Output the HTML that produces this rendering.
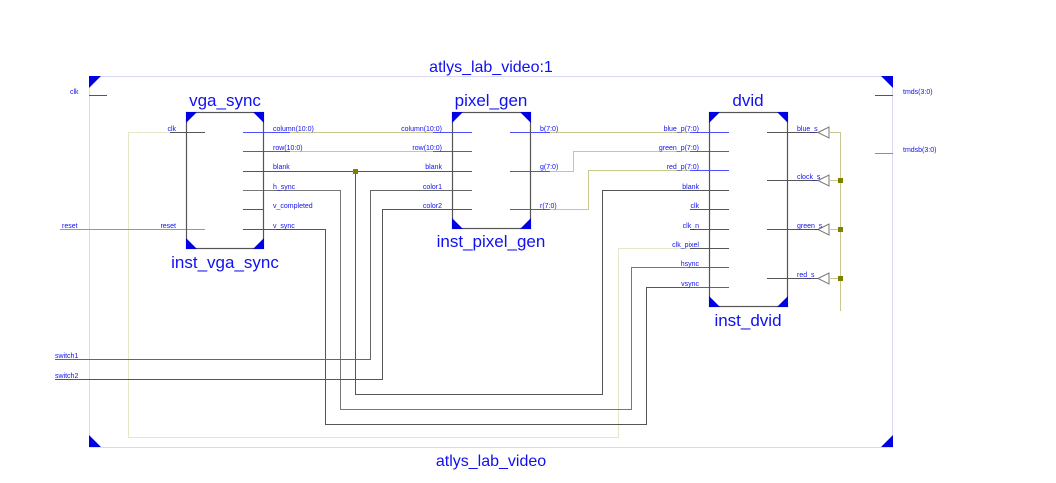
<!DOCTYPE html>
<html><head><style>
body{margin:0;background:#fff;width:1056px;height:483px;overflow:hidden}
svg{display:block}
text{font-family:"Liberation Sans",sans-serif;fill:#1010f0}
.s{font-size:7px}
.t{font-size:17px}
</style></head><body>
<svg width="1056" height="483" viewBox="0 0 1056 483">
<!-- outer frame -->
<rect x="89.5" y="76.5" width="803" height="371" fill="none" stroke="#d8d8f8" stroke-width="1"/>
<g fill="#0000e0">
<polygon points="89,76 101,76 89,88"/>
<polygon points="893,76 881,76 893,88"/>
<polygon points="89,447 89,435 101,447"/>
<polygon points="893,447 893,435 881,447"/>
</g>
<text x="491" y="72" text-anchor="middle" style="font-size:16px">atlys_lab_video:1</text>
<text x="491" y="466" text-anchor="middle" style="font-size:16px">atlys_lab_video</text>

<!-- top ports -->
<text class="s" x="70" y="94">clk</text>
<line x1="89" y1="95.5" x2="107" y2="95.5" stroke="#555"/>
<text class="s" x="62" y="228">reset</text>
<text class="s" x="55" y="358">switch1</text>
<text class="s" x="55" y="378">switch2</text>
<text class="s" x="903" y="94">tmds(3:0)</text>
<line x1="875" y1="95.5" x2="893" y2="95.5" stroke="#555"/>
<text class="s" x="903" y="152">tmdsb(3:0)</text>
<line x1="875" y1="153.5" x2="893" y2="153.5" stroke="#8080ff"/>

<!-- wires -->
<g fill="none" stroke-width="1">
<!-- clk -->
<polyline points="170,132.5 128.5,132.5 128.5,437.5 618.5,437.5 618.5,248.5 690,248.5" stroke="#e6e6c8"/>
<line x1="170" y1="132.5" x2="205" y2="132.5" stroke="#555"/>
<!-- reset -->
<line x1="60" y1="229.5" x2="205" y2="229.5" stroke="#999"/>
<!-- buses -->
<line x1="290" y1="132.5" x2="433" y2="132.5" stroke="#c8c890"/>
<line x1="290" y1="151.5" x2="433" y2="151.5" stroke="#c8c890"/>
<line x1="243" y1="132.5" x2="290" y2="132.5" stroke="#5050ff"/>
<line x1="243" y1="151.5" x2="290" y2="151.5" stroke="#5050ff"/>
<line x1="433" y1="132.5" x2="472" y2="132.5" stroke="#5050ff"/>
<line x1="433" y1="151.5" x2="472" y2="151.5" stroke="#5050ff"/>
<!-- blank -->
<line x1="243" y1="171.5" x2="472" y2="171.5" stroke="#555"/>
<polyline points="355.5,171 355.5,394.5 602.5,394.5 602.5,190.5 729,190.5" stroke="#555"/>
<!-- h_sync -->
<polyline points="243,190.5 340.5,190.5 340.5,409.5 631.5,409.5 631.5,267.5 690,267.5" stroke="#777"/>
<line x1="243" y1="209.5" x2="263" y2="209.5" stroke="#555"/>
<!-- v_sync -->
<polyline points="243,229.5 325.5,229.5 325.5,424.5 646.5,424.5 646.5,287.5 690,287.5" stroke="#555"/>
<!-- switches -->
<polyline points="55,359.5 370.5,359.5 370.5,190.5 472,190.5" stroke="#666"/>
<polyline points="55,379.5 382.5,379.5 382.5,209.5 472,209.5" stroke="#555"/>
<!-- pixel outputs -->
<line x1="510" y1="132.5" x2="550" y2="132.5" stroke="#5050ff"/>
<line x1="550" y1="132.5" x2="690" y2="132.5" stroke="#c8c890"/>
<line x1="510" y1="171.5" x2="550" y2="171.5" stroke="#5050ff"/>
<polyline points="550,171.5 573.5,171.5 573.5,151.5 690,151.5" stroke="#c8c890"/>
<line x1="510" y1="209.5" x2="550" y2="209.5" stroke="#5050ff"/>
<polyline points="550,209.5 588.5,209.5 588.5,170.5 690,170.5" stroke="#c8c890"/>
<!-- dvid left stubs -->
<g stroke="#5050ff">
<line x1="690" y1="132.5" x2="729" y2="132.5"/>
<line x1="690" y1="151.5" x2="729" y2="151.5"/>
<line x1="690" y1="170.5" x2="729" y2="170.5"/>
<line x1="690" y1="267.5" x2="729" y2="267.5"/>
<line x1="690" y1="287.5" x2="729" y2="287.5"/>
</g>
<g stroke="#555">
<line x1="690" y1="209.5" x2="729" y2="209.5"/>
<line x1="690" y1="229.5" x2="729" y2="229.5"/>
<line x1="690" y1="248.5" x2="729" y2="248.5"/>
</g>
<!-- dvid outputs -->
<g stroke="#555">
<line x1="767" y1="132.5" x2="818" y2="132.5"/>
<line x1="767" y1="180.5" x2="818" y2="180.5"/>
<line x1="767" y1="229.5" x2="818" y2="229.5"/>
<line x1="767" y1="278.5" x2="818" y2="278.5"/>
</g>
<g stroke="#777">
<polygon points="818,132.5 829,127 829,138"/>
<polygon points="818,180.5 829,175 829,186"/>
<polygon points="818,229.5 829,224 829,235"/>
<polygon points="818,278.5 829,273 829,284"/>
</g>
<g stroke="#c8c890">
<line x1="840.5" y1="132" x2="840.5" y2="311"/>
<line x1="829" y1="132.5" x2="840" y2="132.5"/>
<line x1="829" y1="180.5" x2="840" y2="180.5"/>
<line x1="829" y1="229.5" x2="840" y2="229.5"/>
<line x1="829" y1="278.5" x2="840" y2="278.5"/>
</g>
</g>
<g fill="#808000">
<rect x="353" y="169" width="5" height="5"/>
<rect x="838" y="178" width="5" height="5"/>
<rect x="838" y="227" width="5" height="5"/>
<rect x="838" y="276" width="5" height="5"/>
</g>

<!-- blocks -->
<g fill="none" stroke="#555" stroke-width="1.2">
<rect x="186.5" y="112.5" width="77" height="136"/>
<rect x="452.5" y="112.5" width="78" height="116"/>
<rect x="709.5" y="112.5" width="78" height="194"/>
</g>
<g fill="#0000e0">
<polygon points="186,112 197,112 186,123"/><polygon points="264,112 253,112 264,123"/>
<polygon points="186,249 186,238 197,249"/><polygon points="264,249 264,238 253,249"/>
<polygon points="452,112 463,112 452,123"/><polygon points="531,112 520,112 531,123"/>
<polygon points="452,229 452,218 463,229"/><polygon points="531,229 531,218 520,229"/>
<polygon points="709,112 720,112 709,123"/><polygon points="788,112 777,112 788,123"/>
<polygon points="709,307 709,296 720,307"/><polygon points="788,307 788,296 777,307"/>
</g>
<text class="t" x="225" y="106" text-anchor="middle">vga_sync</text>
<text class="t" x="225" y="268" text-anchor="middle">inst_vga_sync</text>
<text class="t" x="491" y="106" text-anchor="middle">pixel_gen</text>
<text class="t" x="491" y="247" text-anchor="middle">inst_pixel_gen</text>
<text class="t" x="748" y="106" text-anchor="middle">dvid</text>
<text class="t" x="748" y="326" text-anchor="middle">inst_dvid</text>

<!-- vga pins -->
<text class="s" x="176" y="131" text-anchor="end">clk</text>
<text class="s" x="176" y="228" text-anchor="end">reset</text>
<g class="s">
<text class="s" x="273" y="131">column(10:0)</text>
<text class="s" x="273" y="150">row(10:0)</text>
<text class="s" x="273" y="169">blank</text>
<text class="s" x="273" y="189">h_sync</text>
<text class="s" x="273" y="208">v_completed</text>
<text class="s" x="273" y="228">v_sync</text>
</g>
<!-- pixel pins -->
<text class="s" x="442" y="131" text-anchor="end">column(10:0)</text>
<text class="s" x="442" y="150" text-anchor="end">row(10:0)</text>
<text class="s" x="442" y="169" text-anchor="end">blank</text>
<text class="s" x="442" y="189" text-anchor="end">color1</text>
<text class="s" x="442" y="208" text-anchor="end">color2</text>
<text class="s" x="540" y="131">b(7:0)</text>
<text class="s" x="540" y="169">g(7:0)</text>
<text class="s" x="540" y="208">r(7:0)</text>
<!-- dvid pins -->
<text class="s" x="699" y="131" text-anchor="end">blue_p(7:0)</text>
<text class="s" x="699" y="150" text-anchor="end">green_p(7:0)</text>
<text class="s" x="699" y="169" text-anchor="end">red_p(7:0)</text>
<text class="s" x="699" y="189" text-anchor="end">blank</text>
<text class="s" x="699" y="208" text-anchor="end">clk</text>
<text class="s" x="699" y="228" text-anchor="end">clk_n</text>
<text class="s" x="699" y="247" text-anchor="end">clk_pixel</text>
<text class="s" x="699" y="266" text-anchor="end">hsync</text>
<text class="s" x="699" y="286" text-anchor="end">vsync</text>
<text class="s" x="797" y="131">blue_s</text>
<text class="s" x="797" y="179">clock_s</text>
<text class="s" x="797" y="228">green_s</text>
<text class="s" x="797" y="277">red_s</text>
</svg>
</body></html>
